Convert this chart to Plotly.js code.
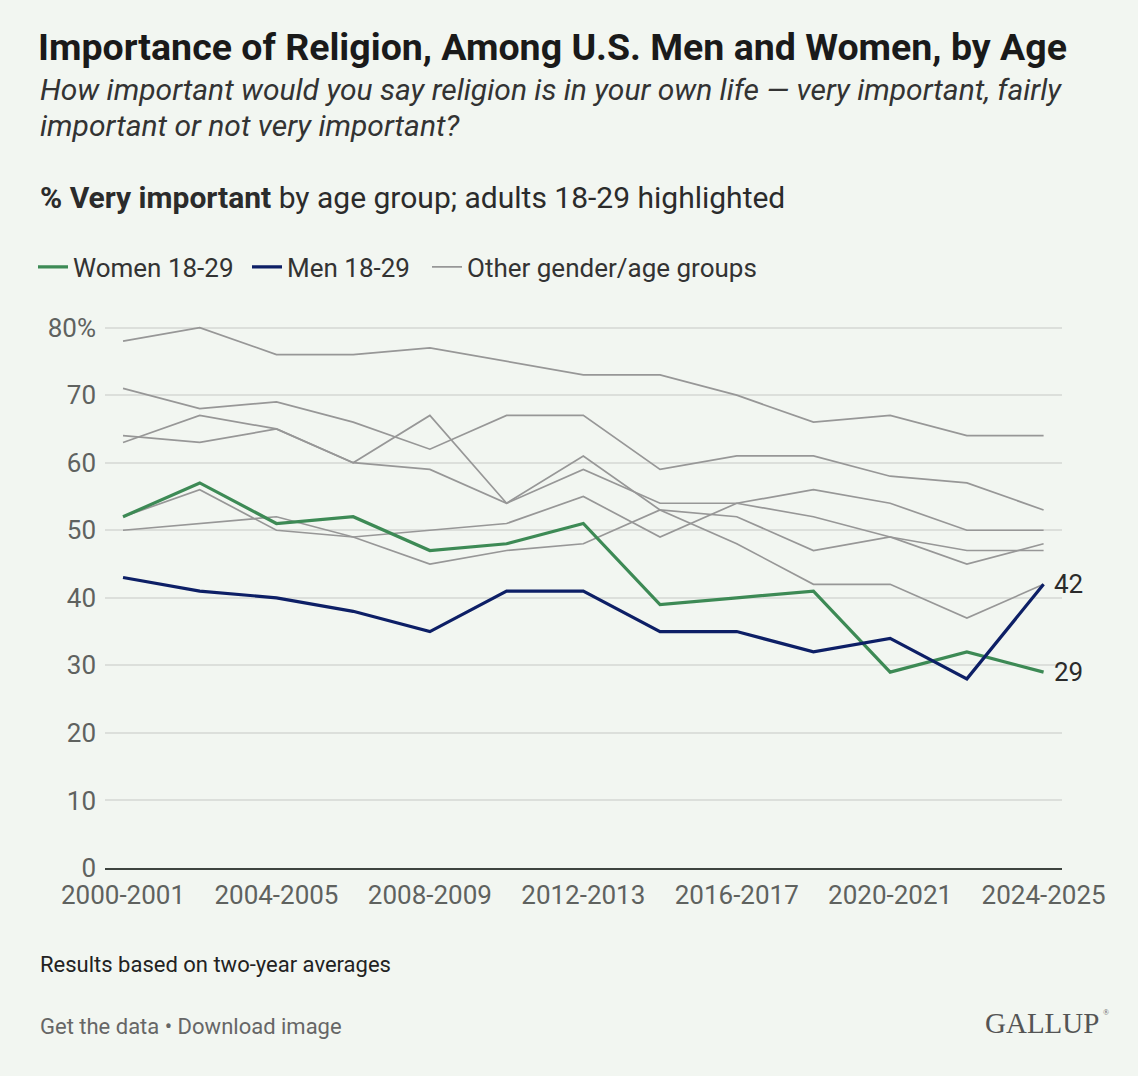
<!DOCTYPE html>
<html>
<head>
<meta charset="utf-8">
<script src="https://cdn.plot.ly/plotly-3.0.1.min.js"></script>
<style>
  html, body { margin: 0; padding: 0; background: #f2f6f1; }
</style>
</head>
<body>
<div id="chart"></div>
<script>
// two-year periods on the x axis
var periods = ["2000-2001", "2002-2003", "2004-2005", "2006-2007", "2008-2009", "2010-2011", "2012-2013",
               "2014-2015", "2016-2017", "2018-2019", "2020-2021", "2022-2023", "2024-2025"];

// % very important, highlighted groups
var women1829 = [52, 57, 51, 52, 47, 48, 51, 39, 40, 41, 29, 32, 29];
var men1829   = [43, 41, 40, 38, 35, 41, 41, 35, 35, 32, 34, 28, 42];

// other gender/age groups (grey lines)
var otherA = [78, 80, 76, 76, 77, 75, 73, 73, 70, 66, 67, 64, 64];
var otherB = [71, 68, 69, 66, 62, 67, 67, 59, 61, 61, 58, 57, 53];
var otherC = [64, 63, 65, 60, 67, 54, 61, 53, 48, 42, 42, 37, 42];
var otherD = [63, 67, 65, 60, 59, 54, 59, 54, 54, 52, 49, 47, 47];
var otherE = [52, 56, 50, 49, 45, 47, 48, 53, 52, 47, 49, 45, 48];
var otherF = [50, 51, 52, 49, 50, 51, 55, 49, 54, 56, 54, 50, 50];

// tick labels
var xTickLabels = ["2000-2001", "2004-2005", "2008-2009", "2012-2013", "2016-2017", "2020-2021", "2024-2025"];
var yTickVals = [0, 10, 20, 30, 40, 50, 60, 70, 80];
var yTickText = ["0", "10", "20", "30", "40", "50", "60", "70", "80%"];

var W = 1138, H = 1076;
var M = {l: 105, r: 76, t: 323, b: 208};
var plotW = W - M.l - M.r, plotH = H - M.t - M.b;
// pixel -> paper helpers for the text blocks around the plot
function px(x) { return (x - M.l) / plotW; }
function py(y) { return (H - M.b - y) / plotH; }

var data = [];
[otherA, otherB, otherC, otherD, otherE, otherF].forEach(function (vals, i) {
    data.push({
        type: "scatter", mode: "lines",
        x: periods, y: vals,
        name: "Other gender/age groups",
        legend: "legend3",
        legendgroup: "other", showlegend: i === 0,
        line: {color: "#979797", width: 1.7},
        hoverinfo: "skip"
    });
});
data.push({
    type: "scatter", mode: "lines",
    x: periods, y: women1829,
    name: "Women 18-29", legend: "legend",
    line: {color: "#3d8a55", width: 3.2}
});
data.push({
    type: "scatter", mode: "lines",
    x: periods, y: men1829,
    name: "Men 18-29", legend: "legend2",
    line: {color: "#0d1f66", width: 3.2}
});

var last = periods.length - 1;
var textFont = {family: "Roboto", size: 26, color: "#2b2b2b"};

var annotations = [
    {xref: "paper", yref: "paper", x: px(38), y: py(89), xanchor: "left", yanchor: "middle", showarrow: false,
     text: "<i>How important would you say religion is in your own life \u2014 very important, fairly</i>",
     font: {family: "Roboto", size: 30, color: "#333"}},
    {xref: "paper", yref: "paper", x: px(38), y: py(125), xanchor: "left", yanchor: "middle", showarrow: false,
     text: "<i>important or not very important?</i>",
     font: {family: "Roboto", size: 30, color: "#333"}},
    {xref: "paper", yref: "paper", x: px(38), y: py(197), xanchor: "left", yanchor: "middle", showarrow: false,
     text: "<b>% Very important</b> by age group; adults 18-29 highlighted",
     font: {family: "Roboto", size: 30, color: "#2b2b2b"}},
    {xref: "paper", yref: "paper", x: px(38), y: py(964), xanchor: "left", yanchor: "middle", showarrow: false,
     text: "Results based on two-year averages",
     font: {family: "Roboto", size: 22, color: "#222"}},
    {xref: "paper", yref: "paper", x: px(38), y: py(1026), xanchor: "left", yanchor: "middle", showarrow: false,
     text: "Get the data \u2022 Download image",
     font: {family: "Roboto", size: 22, color: "#666"}},
    {xref: "paper", yref: "paper", x: px(1101), y: py(1023), xanchor: "right", yanchor: "middle", showarrow: false,
     text: "GALLUP",
     font: {family: "Liberation Serif", size: 29, color: "#555"}},
    {xref: "paper", yref: "paper", x: px(1101), y: py(1012), xanchor: "left", yanchor: "middle", showarrow: false,
     text: "\u00ae",
     font: {family: "Liberation Serif", size: 8, color: "#666"}},
    // end-of-line value labels
    {x: periods[last], y: men1829[last], text: String(men1829[last]), xanchor: "left", yanchor: "middle",
     xshift: 8, showarrow: false, font: textFont},
    {x: periods[last], y: women1829[last], text: String(women1829[last]), xanchor: "left", yanchor: "middle",
     xshift: 8, showarrow: false, font: textFont}
];

function legendAt(xPixel) {
    return {
        orientation: "h",
        x: px(xPixel), xanchor: "left",
        y: py(267), yanchor: "middle",
        font: {family: "Roboto", size: 26, color: "#333"},
        bgcolor: "rgba(0,0,0,0)"
    };
}

var layout = {
    width: W, height: H,
    margin: M,
    paper_bgcolor: "#f2f6f1",
    plot_bgcolor: "#f2f6f1",
    font: {family: "Roboto", color: "#333"},
    title: {
        text: "<b>Importance of Religion, Among U.S. Men and Women, by Age</b>",
        font: {family: "Roboto", size: 37.5, color: "#1a1a1a"},
        xref: "container", x: 38 / W, xanchor: "left",
        yref: "container", y: 1 - 47 / H, yanchor: "middle"
    },
    showlegend: true,
    legend: legendAt(33),
    legend2: legendAt(247),
    legend3: legendAt(427),
    xaxis: {
        type: "category",
        range: [-0.235, 12.24],
        tickmode: "array",
        tickvals: xTickLabels,
        ticktext: xTickLabels,
        showgrid: false,
        zeroline: false,
        showline: true, linecolor: "#3e443f", linewidth: 2,
        ticks: "",
        ticklabelstandoff: 3,
        tickfont: {family: "Roboto", size: 26, color: "#5f625f"},
        fixedrange: true
    },
    yaxis: {
        range: [0, 80.68],
        tickmode: "array",
        tickvals: yTickVals,
        ticktext: yTickText,
        showgrid: true, gridcolor: "#dcdfdb", gridwidth: 1.5,
        zeroline: false,
        showline: false,
        ticks: "",
        ticklabelstandoff: 8,
        tickfont: {family: "Roboto", size: 26, color: "#5f625f"},
        fixedrange: true
    },
    annotations: annotations
};

Plotly.newPlot(document.getElementById("chart"), data, layout, {displayModeBar: false});
</script>
</body>
</html>
